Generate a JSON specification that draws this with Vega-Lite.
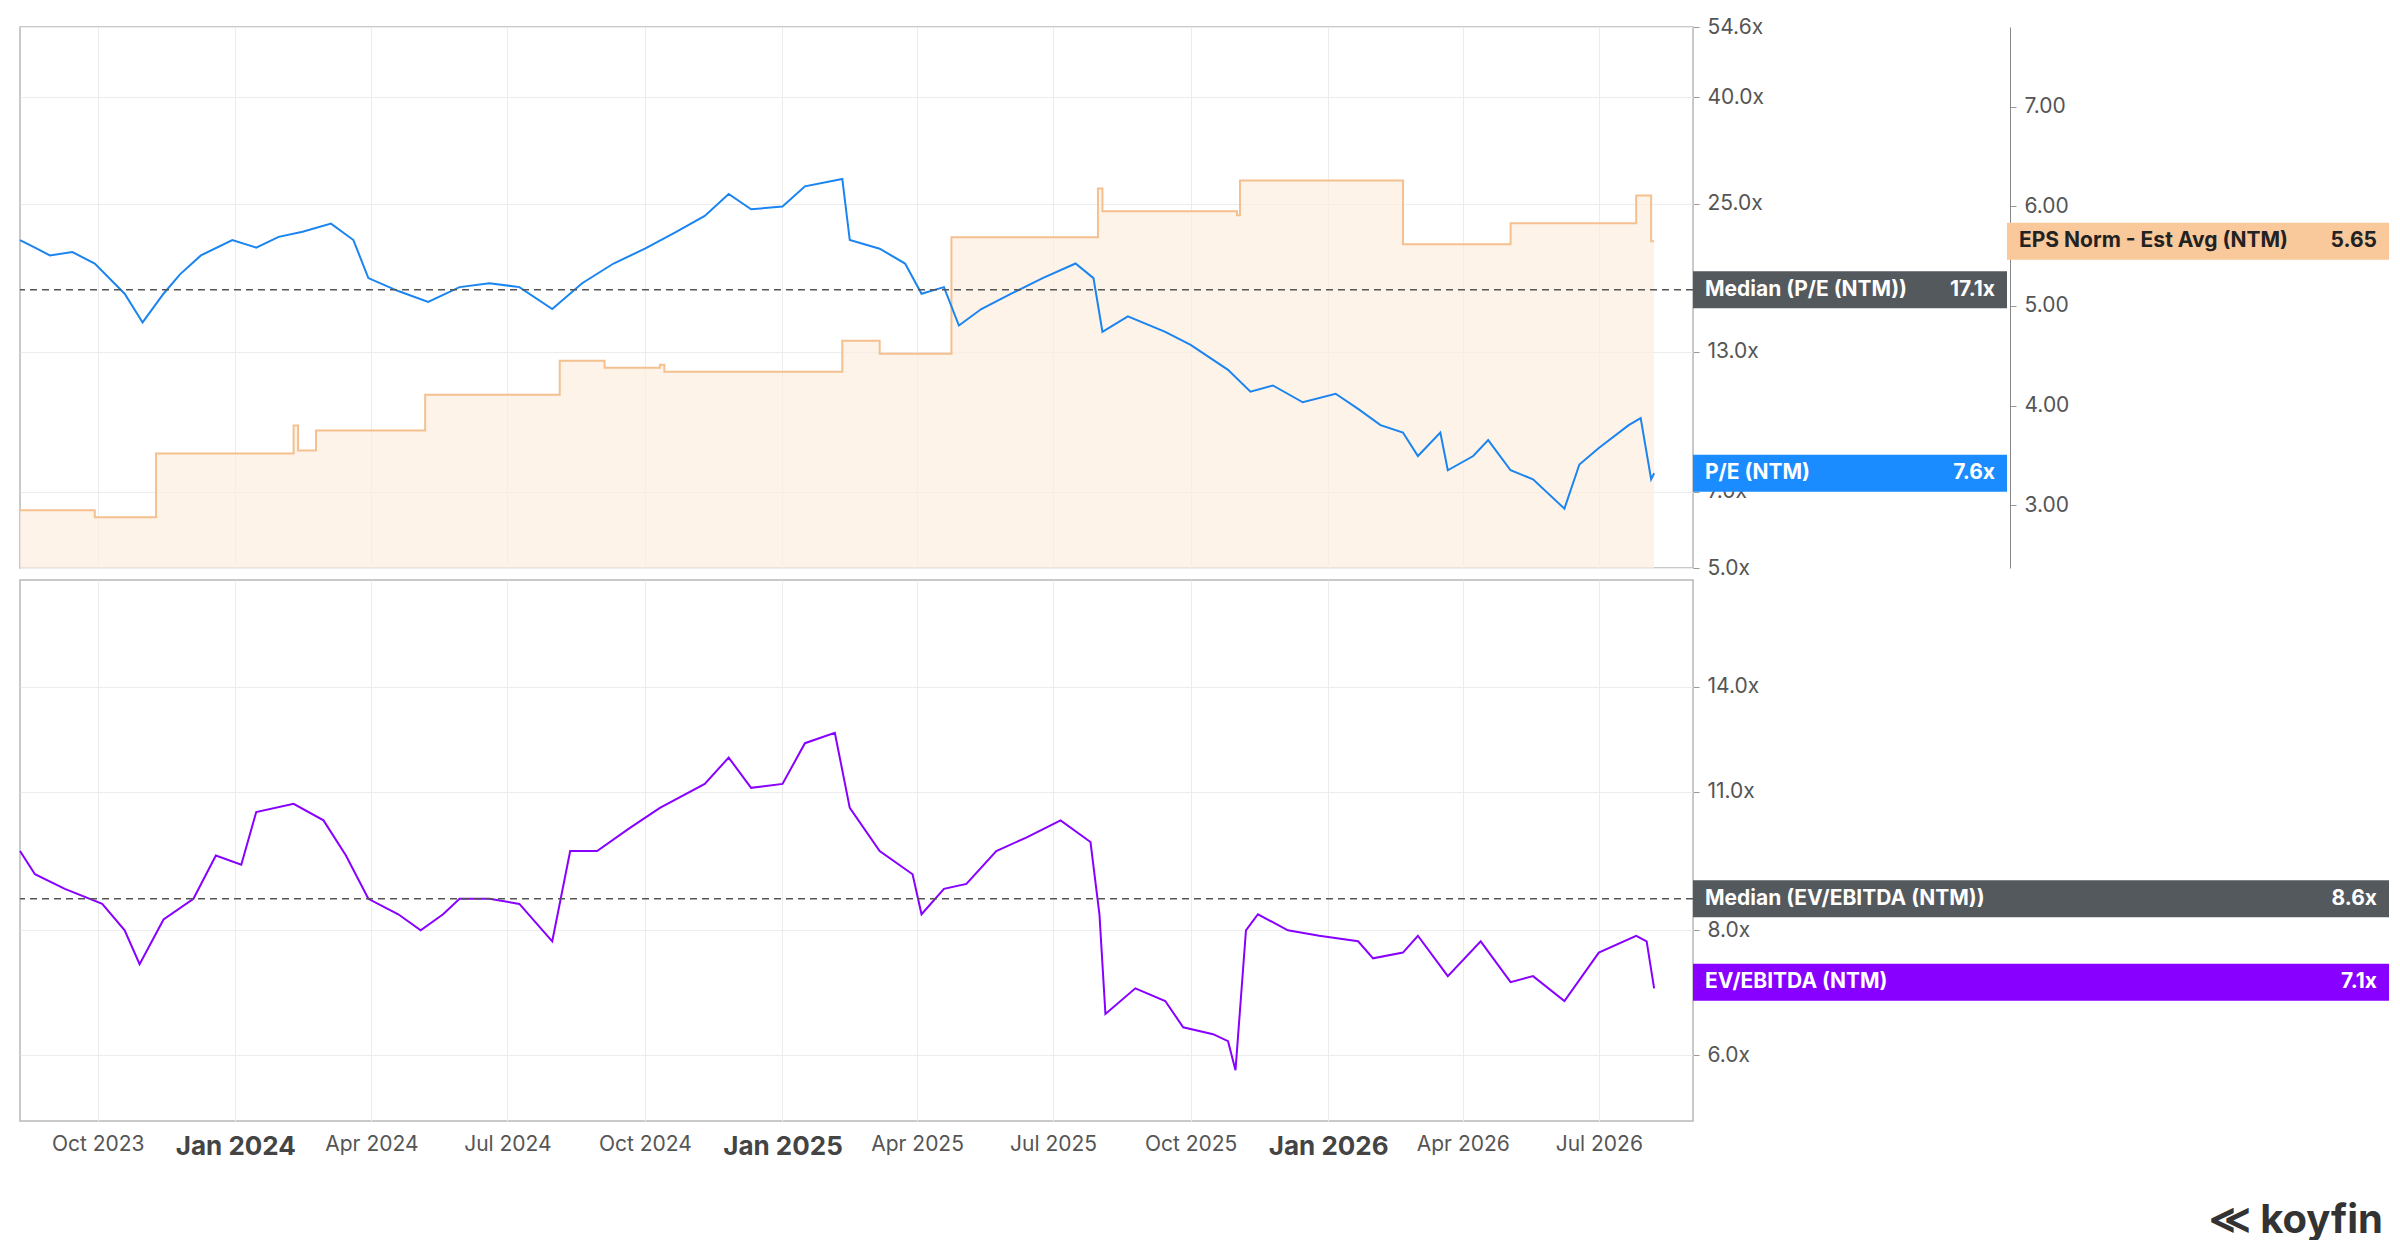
{
  "$schema": "https://vega.github.io/schema/vega-lite/v6.json",
  "background": "white",
  "padding": {"left": 15, "top": 15, "right": 0, "bottom": 0},
  "config": {
    "font": "Inter",
    "view": {"stroke": "#b8b8b8", "strokeWidth": 1.5},
    "axis": {"labelFont": "Inter", "labelFontSize": 21, "labelColor": "#555", "gridColor": "#ececec", "tickColor": "#999", "tickSize": 6}
  },
  "spacing": 0,
  "datasets": {
    "pe": [
      {"date": "2023-08-10", "pe": 21.3}, {"date": "2023-08-20", "pe": 20.6}, {"date": "2023-08-30", "pe": 19.9}, {"date": "2023-09-14", "pe": 20.2}, {"date": "2023-09-29", "pe": 19.2}, {"date": "2023-10-19", "pe": 16.8}, {"date": "2023-10-31", "pe": 14.8}, {"date": "2023-11-14", "pe": 16.8}, {"date": "2023-11-25", "pe": 18.3}, {"date": "2023-12-09", "pe": 19.9}, {"date": "2023-12-30", "pe": 21.3}, {"date": "2024-01-15", "pe": 20.6}, {"date": "2024-01-30", "pe": 21.6}, {"date": "2024-02-15", "pe": 22.1}, {"date": "2024-03-05", "pe": 22.9}, {"date": "2024-03-20", "pe": 21.3}, {"date": "2024-03-30", "pe": 18.0}, {"date": "2024-04-19", "pe": 17.0}, {"date": "2024-05-09", "pe": 16.2}, {"date": "2024-05-30", "pe": 17.3}, {"date": "2024-06-19", "pe": 17.6}, {"date": "2024-07-09", "pe": 17.3}, {"date": "2024-07-31", "pe": 15.7}, {"date": "2024-08-20", "pe": 17.6}, {"date": "2024-09-10", "pe": 19.2}, {"date": "2024-10-01", "pe": 20.5}, {"date": "2024-10-21", "pe": 22.0}, {"date": "2024-11-10", "pe": 23.7}, {"date": "2024-11-26", "pe": 26.1}, {"date": "2024-12-11", "pe": 24.4}, {"date": "2025-01-01", "pe": 24.7}, {"date": "2025-01-16", "pe": 27.0}, {"date": "2025-02-10", "pe": 27.9}, {"date": "2025-02-15", "pe": 21.3}, {"date": "2025-03-07", "pe": 20.5}, {"date": "2025-03-24", "pe": 19.2}, {"date": "2025-04-04", "pe": 16.8}, {"date": "2025-04-19", "pe": 17.3}, {"date": "2025-04-29", "pe": 14.6}, {"date": "2025-05-14", "pe": 15.7}, {"date": "2025-06-03", "pe": 16.8}, {"date": "2025-06-24", "pe": 18.0}, {"date": "2025-07-16", "pe": 19.2}, {"date": "2025-07-28", "pe": 18.0}, {"date": "2025-08-03", "pe": 14.2}, {"date": "2025-08-20", "pe": 15.2}, {"date": "2025-09-14", "pe": 14.2}, {"date": "2025-10-01", "pe": 13.4}, {"date": "2025-10-26", "pe": 12.0}, {"date": "2025-11-10", "pe": 10.9}, {"date": "2025-11-25", "pe": 11.2}, {"date": "2025-12-15", "pe": 10.4}, {"date": "2026-01-06", "pe": 10.8}, {"date": "2026-01-21", "pe": 10.1}, {"date": "2026-02-05", "pe": 9.4}, {"date": "2026-02-20", "pe": 9.1}, {"date": "2026-03-02", "pe": 8.2}, {"date": "2026-03-17", "pe": 9.1}, {"date": "2026-03-22", "pe": 7.7}, {"date": "2026-04-08", "pe": 8.2}, {"date": "2026-04-18", "pe": 8.8}, {"date": "2026-05-03", "pe": 7.7}, {"date": "2026-05-18", "pe": 7.4}, {"date": "2026-06-08", "pe": 6.5}, {"date": "2026-06-18", "pe": 7.9}, {"date": "2026-07-01", "pe": 8.5}, {"date": "2026-07-21", "pe": 9.4}, {"date": "2026-07-29", "pe": 9.7}, {"date": "2026-08-05", "pe": 7.4}, {"date": "2026-08-07", "pe": 7.6}
    ],
    "eps": [
      {"date": "2023-08-10", "eps": 2.95}, {"date": "2023-09-29", "eps": 2.88}, {"date": "2023-11-09", "eps": 3.52}, {"date": "2024-02-09", "eps": 3.8}, {"date": "2024-02-12", "eps": 3.55}, {"date": "2024-02-24", "eps": 3.75}, {"date": "2024-05-07", "eps": 4.11}, {"date": "2024-08-05", "eps": 4.45}, {"date": "2024-09-04", "eps": 4.38}, {"date": "2024-10-11", "eps": 4.41}, {"date": "2024-10-14", "eps": 4.34}, {"date": "2025-02-10", "eps": 4.65}, {"date": "2025-03-07", "eps": 4.52}, {"date": "2025-04-24", "eps": 5.69}, {"date": "2025-07-31", "eps": 6.18}, {"date": "2025-08-03", "eps": 5.95}, {"date": "2025-11-01", "eps": 5.91}, {"date": "2025-11-03", "eps": 6.26}, {"date": "2026-02-20", "eps": 5.62}, {"date": "2026-05-03", "eps": 5.83}, {"date": "2026-07-26", "eps": 6.11}, {"date": "2026-08-05", "eps": 5.65}, {"date": "2026-08-07", "eps": 5.65}
    ],
    "ev": [
      {"date": "2023-08-10", "ev": 9.6}, {"date": "2023-08-20", "ev": 9.1}, {"date": "2023-09-09", "ev": 8.8}, {"date": "2023-10-04", "ev": 8.5}, {"date": "2023-10-19", "ev": 8.0}, {"date": "2023-10-29", "ev": 7.4}, {"date": "2023-11-14", "ev": 8.2}, {"date": "2023-12-04", "ev": 8.6}, {"date": "2023-12-19", "ev": 9.5}, {"date": "2024-01-05", "ev": 9.3}, {"date": "2024-01-15", "ev": 10.5}, {"date": "2024-02-09", "ev": 10.7}, {"date": "2024-02-29", "ev": 10.3}, {"date": "2024-03-15", "ev": 9.5}, {"date": "2024-03-30", "ev": 8.6}, {"date": "2024-04-19", "ev": 8.3}, {"date": "2024-05-04", "ev": 8.0}, {"date": "2024-05-19", "ev": 8.3}, {"date": "2024-05-30", "ev": 8.6}, {"date": "2024-06-19", "ev": 8.6}, {"date": "2024-07-09", "ev": 8.5}, {"date": "2024-07-31", "ev": 7.8}, {"date": "2024-08-12", "ev": 9.6}, {"date": "2024-08-30", "ev": 9.6}, {"date": "2024-09-20", "ev": 10.1}, {"date": "2024-10-11", "ev": 10.6}, {"date": "2024-11-10", "ev": 11.2}, {"date": "2024-11-26", "ev": 11.9}, {"date": "2024-12-11", "ev": 11.1}, {"date": "2025-01-01", "ev": 11.2}, {"date": "2025-01-16", "ev": 12.3}, {"date": "2025-02-05", "ev": 12.6}, {"date": "2025-02-15", "ev": 10.6}, {"date": "2025-03-07", "ev": 9.6}, {"date": "2025-03-29", "ev": 9.1}, {"date": "2025-04-04", "ev": 8.3}, {"date": "2025-04-19", "ev": 8.8}, {"date": "2025-05-04", "ev": 8.9}, {"date": "2025-05-24", "ev": 9.6}, {"date": "2025-06-13", "ev": 9.9}, {"date": "2025-07-06", "ev": 10.3}, {"date": "2025-07-26", "ev": 9.8}, {"date": "2025-08-01", "ev": 8.3}, {"date": "2025-08-05", "ev": 6.6}, {"date": "2025-08-25", "ev": 7.0}, {"date": "2025-09-14", "ev": 6.8}, {"date": "2025-09-26", "ev": 6.4}, {"date": "2025-10-16", "ev": 6.3}, {"date": "2025-10-26", "ev": 6.2}, {"date": "2025-10-31", "ev": 5.8}, {"date": "2025-11-07", "ev": 8.0}, {"date": "2025-11-15", "ev": 8.3}, {"date": "2025-12-05", "ev": 8.0}, {"date": "2025-12-26", "ev": 7.9}, {"date": "2026-01-21", "ev": 7.8}, {"date": "2026-01-31", "ev": 7.5}, {"date": "2026-02-20", "ev": 7.6}, {"date": "2026-03-02", "ev": 7.9}, {"date": "2026-03-22", "ev": 7.2}, {"date": "2026-04-13", "ev": 7.8}, {"date": "2026-05-03", "ev": 7.1}, {"date": "2026-05-18", "ev": 7.2}, {"date": "2026-06-08", "ev": 6.8}, {"date": "2026-07-01", "ev": 7.6}, {"date": "2026-07-26", "ev": 7.9}, {"date": "2026-08-02", "ev": 7.8}, {"date": "2026-08-07", "ev": 7.0}
    ]
  },
  "vconcat": [
    {
      "width": 1673,
      "height": 541,
      "layer": [
        {
          "layer": [
            {
              "data": {"name": "eps"},
              "mark": {"type": "area", "interpolate": "step-after", "color": "#fdeede", "line": {"color": "#f5c08f", "strokeWidth": 2}},
              "encoding": {
                "x": {"field": "date", "type": "temporal", "scale": {"domain": ["2023-08-10", "2026-09-02"]},
                  "axis": {"labels": false, "ticks": false, "domain": false, "title": null, "grid": true, "tickCount": {"interval": "month", "step": 3}}},
                "y": {"field": "eps", "type": "quantitative", "scale": {"domain": [2.37, 7.8], "zero": false, "nice": false},
                  "axis": {"orient": "right", "offset": 317, "values": [3, 4, 5, 6, 7], "format": ".2f", "grid": false, "domain": true, "domainColor": "#888", "title": null, "labelPadding": 8}},
                "y2": {"datum": 2.37}
              }
            },
            {
              "data": {"values": [{"v": 5.65}]},
              "mark": {"type": "rect", "x": {"expr": "width+314"}, "x2": {"expr": "width+696"}, "height": 37, "color": "#f9c89b"},
              "encoding": {"y": {"field": "v", "type": "quantitative"}}
            },
            {
              "data": {"values": [{"v": 5.65}]},
              "mark": {"type": "text", "x": {"expr": "width+326"}, "align": "left", "fontSize": 21, "fontWeight": "bold", "color": "#222", "text": "EPS Norm - Est Avg (NTM)"},
              "encoding": {"y": {"field": "v", "type": "quantitative"}}
            },
            {
              "data": {"values": [{"v": 5.65}]},
              "mark": {"type": "text", "x": {"expr": "width+684"}, "align": "right", "fontSize": 21, "fontWeight": "bold", "color": "#222", "text": "5.65"},
              "encoding": {"y": {"field": "v", "type": "quantitative"}}
            }
          ]
        },
        {
          "layer": [
            {
              "data": {"name": "pe"},
              "mark": {"type": "line", "color": "#1a84f0", "strokeWidth": 2},
              "encoding": {
                "x": {"field": "date", "type": "temporal"},
                "y": {"field": "pe", "type": "quantitative", "scale": {"type": "log", "domain": [5, 54.6], "nice": false},
                  "axis": {"orient": "right", "values": [5, 7, 13, 25, 40, 54.6], "labelExpr": "format(datum.value,'.1f')+'x'", "grid": true, "domain": false, "title": null, "labelPadding": 8}}
              }
            },
            {
              "data": {"values": [{"v": 17.1}]},
              "mark": {"type": "rule", "strokeDash": [7, 5], "color": "#555", "strokeWidth": 1.5},
              "encoding": {"y": {"field": "v", "type": "quantitative"}}
            },
            {
              "data": {"values": [{"v": 17.1, "c": "#54595e"}, {"v": 7.6, "c": "#1a8cff"}]},
              "mark": {"type": "rect", "x": {"expr": "width"}, "x2": {"expr": "width+314"}, "height": 37},
              "encoding": {"y": {"field": "v", "type": "quantitative"}, "color": {"field": "c", "type": "nominal", "scale": null}}
            },
            {
              "data": {"values": [{"v": 17.1, "n": "Median (P/E (NTM))"}, {"v": 7.6, "n": "P/E (NTM)"}]},
              "mark": {"type": "text", "x": {"expr": "width+12"}, "align": "left", "fontSize": 21, "fontWeight": "bold", "color": "white"},
              "encoding": {"y": {"field": "v", "type": "quantitative"}, "text": {"field": "n"}}
            },
            {
              "data": {"values": [{"v": 17.1, "t": "17.1x"}, {"v": 7.6, "t": "7.6x"}]},
              "mark": {"type": "text", "x": {"expr": "width+302"}, "align": "right", "fontSize": 21, "fontWeight": "bold", "color": "white"},
              "encoding": {"y": {"field": "v", "type": "quantitative"}, "text": {"field": "t"}}
            }
          ]
        }
      ],
      "resolve": {"scale": {"y": "independent"}, "axis": {"y": "independent"}}
    },
    {
      "width": 1673,
      "height": 541,
      "layer": [
        {
          "data": {"name": "ev"},
          "mark": {"type": "line", "color": "#8800ff", "strokeWidth": 2},
          "encoding": {
            "x": {"field": "date", "type": "temporal", "scale": {"domain": ["2023-08-10", "2026-09-02"]},
              "axis": {"title": null, "grid": true, "domain": false, "ticks": false, "labelPadding": 12, "tickCount": {"interval": "month", "step": 3},
                "labelExpr": "timeFormat(datum.value,'%b %Y')",
                "labelFontWeight": {"condition": {"test": "month(datum.value)==0", "value": "bold"}, "value": "normal"},
                "labelFontSize": {"condition": {"test": "month(datum.value)==0", "value": 26}, "value": 21},
                "labelColor": {"condition": {"test": "month(datum.value)==0", "value": "#444"}, "value": "#555"}}},
            "y": {"field": "ev", "type": "quantitative", "scale": {"type": "log", "domain": [5.16, 17.9], "nice": false},
              "axis": {"orient": "right", "values": [6, 8, 11, 14], "labelExpr": "format(datum.value,'.1f')+'x'", "grid": true, "domain": false, "title": null, "labelPadding": 8}}
          }
        },
        {
          "data": {"values": [{"v": 8.6}]},
          "mark": {"type": "rule", "strokeDash": [7, 5], "color": "#555", "strokeWidth": 1.5},
          "encoding": {"y": {"field": "v", "type": "quantitative"}}
        },
        {
          "data": {"values": [{"v": 8.6, "c": "#54595e"}, {"v": 7.1, "c": "#8800ff"}]},
          "mark": {"type": "rect", "x": {"expr": "width"}, "x2": {"expr": "width+696"}, "height": 37},
          "encoding": {"y": {"field": "v", "type": "quantitative"}, "color": {"field": "c", "type": "nominal", "scale": null}}
        },
        {
          "data": {"values": [{"v": 8.6, "n": "Median (EV/EBITDA (NTM))"}, {"v": 7.1, "n": "EV/EBITDA (NTM)"}]},
          "mark": {"type": "text", "x": {"expr": "width+12"}, "align": "left", "fontSize": 21, "fontWeight": "bold", "color": "white"},
          "encoding": {"y": {"field": "v", "type": "quantitative"}, "text": {"field": "n"}}
        },
        {
          "data": {"values": [{"v": 8.6, "t": "8.6x"}, {"v": 7.1, "t": "7.1x"}]},
          "mark": {"type": "text", "x": {"expr": "width+684"}, "align": "right", "fontSize": 21, "fontWeight": "bold", "color": "white"},
          "encoding": {"y": {"field": "v", "type": "quantitative"}, "text": {"field": "t"}}
        },
        {
          "data": {"values": [{"t": "≪ koyfin", "v": 4.1}]},
          "mark": {"type": "text", "x": {"expr": "width+690"}, "align": "right", "fontSize": 40, "fontWeight": "bold", "color": "#333"},
          "encoding": {"y": {"field": "v", "type": "quantitative"}, "text": {"field": "t"}}
        }
      ]
    }
  ]
}
